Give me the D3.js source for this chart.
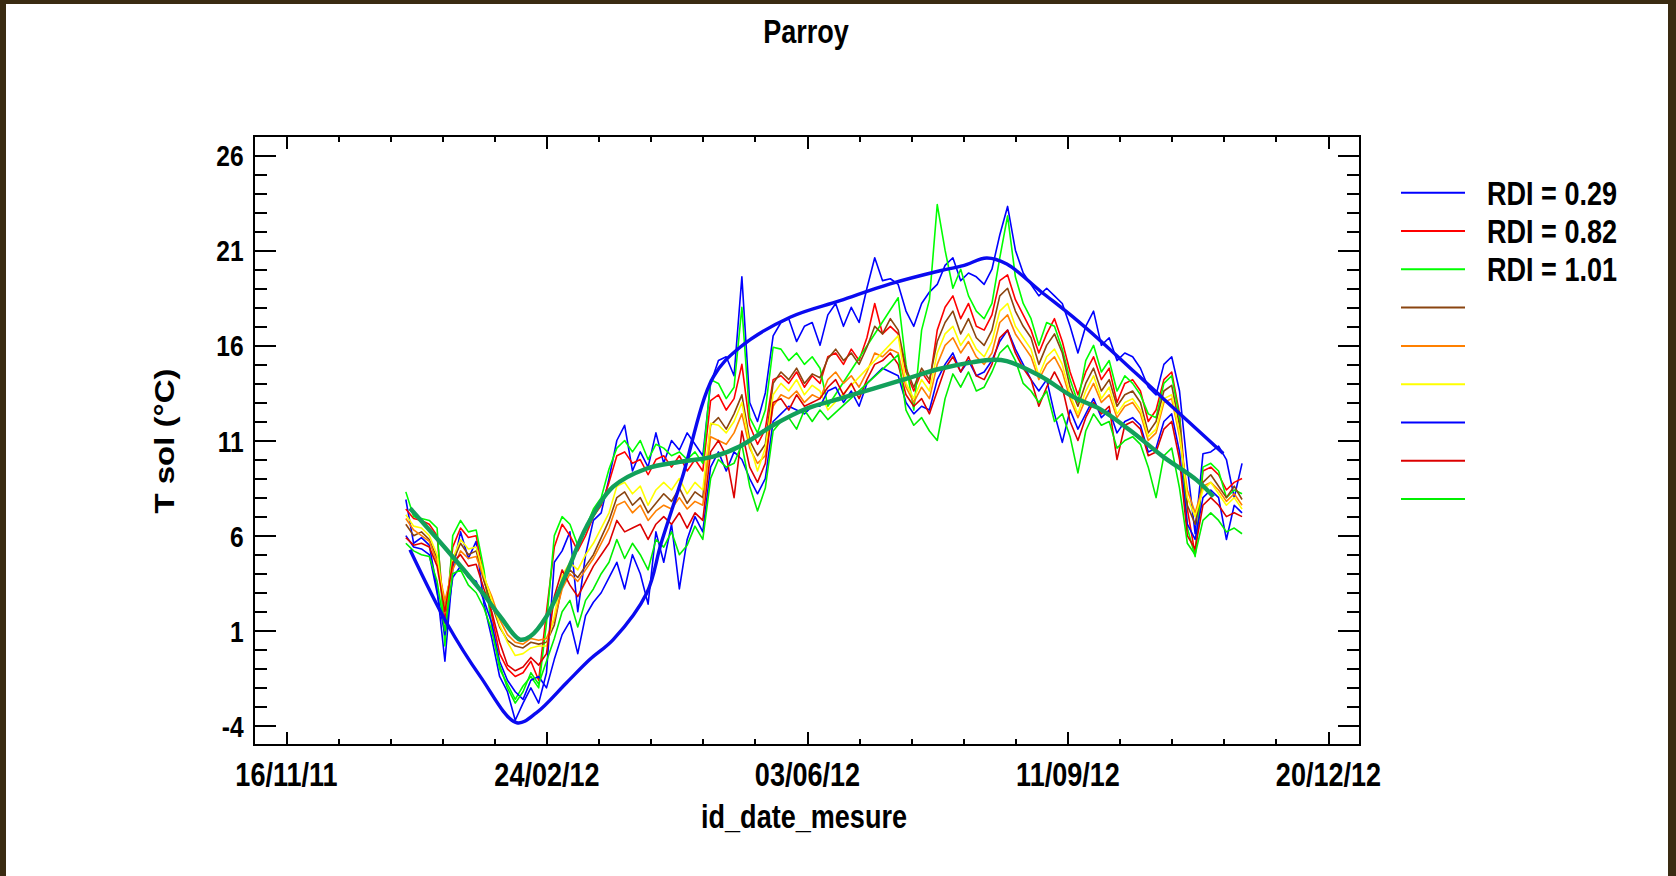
<!DOCTYPE html>
<html>
<head>
<meta charset="utf-8">
<script src="https://cdn.jsdelivr.net/npm/d3@7"></script>
<style>
  html, body { margin: 0; padding: 0; background: #3a2b12; }
  svg { display: block; }
</style>
</head>
<body>
<svg id="chart" width="1676" height="876"></svg>
<script>
// soil temperature, Parroy site, one point every 3 days from 1 Jan 2012
const firstDay = '2012-01-01';
const stepDays = 3;

const rdi029 = [
  7.9, 5.6, 5.9, 5.5, 3.2, -0.6, 4.2, 6.2, 4.8, 5.7,
  2.4, 0.6, -1.4, -2.2, -3.7, -2.8, -2.0, -2.8, -1.2, 4.6,
  5.2, 6.2, 2.0, 5.0, 6.8, 7.2, 9.0, 11.0, 11.8, 9.4,
  10.4, 9.6, 11.4, 9.8, 11.0, 10.5, 11.4, 10.8, 10.2, 14.0,
  15.2, 15.4, 14.4, 19.6, 13.0, 12.0, 13.5, 16.5, 17.2, 17.4,
  16.2, 17.0, 17.2, 16.0, 17.6, 18.2, 17.0, 18.0, 17.2, 19.0,
  20.6, 19.4, 19.5, 19.2, 17.8, 17.0, 18.2, 18.8, 19.2, 20.2,
  20.6, 19.4, 19.8, 19.6, 19.2, 20.0, 21.8, 23.3, 21.0, 19.8,
  19.2, 18.6, 19.0, 18.6, 18.2, 17.0, 15.6, 17.0, 17.8, 16.0,
  16.4, 15.2, 15.6, 15.4, 14.8, 13.8, 13.4, 15.0, 15.4, 13.6,
  9.6, 6.1, 10.3, 10.4, 10.7, 10.0, 8.0, 9.8
];
const rdi082 = [
  7.4, 6.9, 6.8, 6.6, 6.0, 1.4, 5.4, 6.4, 5.9, 6.0,
  3.8, 1.8, -0.2, -1.0, -1.4, -1.2, -0.6, -1.6, 2.0, 5.4,
  6.6, 6.0, 5.2, 6.0, 7.0, 7.6, 8.8, 10.2, 10.4, 9.8,
  10.0, 9.2, 10.0, 10.2, 9.6, 10.2, 9.4, 10.0, 9.4, 13.1,
  13.4, 12.6, 13.2, 15.0, 11.8, 10.8, 11.6, 14.2, 14.4, 14.0,
  14.6, 13.8, 14.4, 14.0, 15.4, 15.6, 15.0, 15.8, 15.2, 16.4,
  18.2, 16.6, 17.0, 16.6, 14.6, 13.6, 14.6, 14.0, 16.8, 18.0,
  18.6, 17.4, 18.2, 17.0, 16.8, 17.6, 19.4, 19.7, 18.4, 17.6,
  16.8, 15.6, 16.6, 17.4, 16.2, 14.6, 13.4, 14.6, 15.4, 14.2,
  14.8, 13.0, 14.0, 14.2, 13.6, 12.0, 12.6, 14.2, 14.6, 12.4,
  7.4, 5.0, 9.4, 9.6, 9.2, 8.4, 8.8, 9.0
];
const rdi101 = [
  8.3, 7.0, 6.9, 6.8, 6.4, 0.2, 6.0, 6.8, 6.2, 6.3,
  4.2, 1.2, -1.0, -1.8, -2.6, -1.9, -1.4, -2.0, 1.4, 6.0,
  7.0, 6.6, 5.5, 6.4, 7.4, 8.0, 9.5, 10.6, 11.0, 10.4,
  11.0, 10.0, 10.8, 10.6, 10.2, 10.4, 10.0, 10.4, 9.8, 14.2,
  14.0, 13.2, 13.8, 18.0, 12.2, 11.4, 12.6, 15.9, 15.8, 15.2,
  15.6, 15.0, 15.4, 14.8, 12.8, null, null, null, null, null,
  null, null, null, 18.5, 15.0, 12.6, 16.8, 18.4, 23.4, 21.0,
  19.0, 20.0, 18.6, 17.8, 17.4, 18.2, 20.6, 22.8, 19.6, 18.2,
  17.4, 16.0, 17.2, 17.0, 15.8, 14.2, 13.0, 15.2, 16.0, 14.6,
  15.2, 13.6, 14.4, 14.0, 13.4, 12.4, 12.2, 14.0, 14.4, 12.2,
  6.4, 4.9, 9.6, 9.8, 9.4, 8.0, 8.4, 8.2
];
const brownVals = [
  6.6, 6.0, 6.2, 5.8, 4.8, 2.2, 4.6, 5.6, 5.0, 5.2,
  3.6, 2.4, 1.2, 0.5, 0.2, 0.1, 0.4, 0.3, 0.4, 1.3,
  3.4, 4.2, 3.8, 4.4, 5.0, 5.9, 6.8, 8.0, 8.3, 7.6,
  8.0, 7.2, 7.7, 8.2, 7.8, 8.5, 7.7, 8.3, 8.0, 11.8,
  12.2, 11.6, 12.4, 13.4, 11.0, 10.2, 10.8, 14.0, 14.6, 14.2,
  14.8, 14.0, 14.5, 14.3, 15.3, 15.8, 15.2, 15.6, 15.0, 15.9,
  17.0, 16.6, 17.4, 16.8, 14.8, 13.8, 14.8, 14.2, 16.2, 17.2,
  17.8, 16.6, 17.4, 16.4, 16.0, 16.8, 18.6, 19.0, 17.8, 17.0,
  16.4, 15.0, 16.0, 16.6, 15.6, 13.8, 12.8, 14.0, 14.8, 13.6,
  14.2, 12.8, 13.4, 13.6, 13.0, 11.4, 12.0, 13.6, 13.9, 11.8,
  7.6, 6.6, 8.8, 9.2, 8.6, 8.0, 8.6, 7.9
];
const orangeVals = [
  6.9, 6.3, 6.0, 5.7, 4.6, 2.6, 4.2, 5.2, 4.8, 4.9,
  3.8, 2.8, 1.6, 0.8, 0.4, 0.3, 0.6, 0.5, 0.6, 1.6,
  3.2, 4.0, 3.6, 4.2, 4.8, 5.6, 6.4, 7.6, 7.8, 7.2,
  7.6, 6.8, 7.3, 7.6, 7.4, 8.0, 7.4, 7.8, 7.6, 11.2,
  11.0, 10.8, 11.4, 12.4, 10.6, 9.8, 10.2, 12.8, 13.4, 13.2,
  13.6, 13.0, 13.4, 13.2, 14.2, 14.6, 14.0, 14.4, 13.8, 14.6,
  15.6, 15.4, 15.8, 15.6, 13.8, 13.0, 13.8, 13.2, 15.0, 16.0,
  16.4, 15.6, 16.2, 15.4, 15.0, 15.6, 17.2, 17.6, 16.6, 16.0,
  15.4, 14.2, 15.0, 15.4, 14.6, 13.2, 12.2, 13.2, 14.0, 13.0,
  13.4, 12.2, 12.8, 13.0, 12.4, 11.0, 11.4, 13.0, 13.2, 11.2,
  8.4, 7.2, 8.6, 8.8, 8.4, 7.8, 8.2, 7.6
];
const yellowVals = [
  7.1, 6.5, 6.4, 6.0, 5.0, 2.0, 4.8, 5.8, 5.3, 5.4,
  3.9, 2.6, 1.3, 0.4, -0.3, -0.2, 0.1, 0.2, 0.2, 1.8,
  3.9, 4.6, 4.2, 5.0, 5.6, 6.4, 7.2, 8.6, 8.8, 8.2,
  8.6, 7.6, 8.4, 8.8, 8.4, 9.0, 8.2, 8.8, 8.4, 11.9,
  11.8, 11.4, 12.0, 13.0, 10.8, 9.4, 10.6, 13.4, 14.0, 13.6,
  14.2, 13.4, 13.9, 13.6, 12.6, null, null, null, null, null,
  null, null, null, 16.5, 14.0, 13.2, 14.2, 13.6, 15.6, 16.6,
  17.0, 16.0, 16.6, 15.8, 15.4, 16.2, 17.8, 18.2, 17.0, 16.4,
  15.8, 14.4, 15.4, 15.8, 15.0, 13.4, 12.4, 13.6, 14.4, 13.2,
  13.8, 12.4, 13.0, 13.2, 12.6, 11.2, 11.6, 13.2, 13.4, 11.4,
  8.0, 7.0, 8.4, 8.8, 8.2, 7.6, 8.0, 7.4
];
const blue2Vals = [
  6.0, 5.4, 5.3, 5.0, 3.0, 0.8, 3.8, 4.4, 3.8, 3.6,
  2.6, 1.4, -0.6, -1.6, -2.2, -2.6, -1.6, -1.4, -2.0, -0.5,
  0.8, 1.5, -0.2, 1.8, 2.5, 3.0, 3.8, 4.6, 3.2, 5.0,
  4.0, 2.4, 6.2, 4.6, 6.6, 3.2, 5.8, 7.0, 6.2, 9.6,
  10.4, 9.4, 10.4, 10.0, 9.0, 8.2, 9.0, 12.0, 12.4, 12.8,
  12.6, 12.4, 12.8, 12.8, 13.6, 13.8, 13.0, 13.6, 12.8, 14.0,
  14.4, 14.8, 14.6, 14.4, 13.0, 12.4, 12.8, 12.6, 14.2, 15.0,
  15.6, 14.6, 15.2, 14.4, 14.6, 15.2, 16.2, 16.8, 15.8, 15.0,
  14.2, 13.6, 14.2, 12.4, 10.9, 12.6, 11.6, 12.4, 13.2, 12.2,
  12.6, 11.4, 12.0, 12.2, 11.8, 10.4, 10.6, 12.0, 12.4, 10.4,
  6.6, 5.8, 8.0, 8.4, 8.0, 5.8, 7.6, 7.2
];
const red2Vals = [
  5.9, 5.5, 5.6, 5.4, 4.4, 2.0, 4.6, 5.0, 4.4, 4.5,
  3.2, 2.0, 0.4, -0.8, -1.1, -0.9, -0.4, -0.8, -0.2, 2.8,
  4.2, 3.4, 2.8, 3.6, 4.4, 5.0, 5.6, 6.8, 6.2, 6.4,
  6.6, 5.8, 6.6, 7.0, 6.6, 7.2, 6.4, 7.2, 6.8, 10.4,
  11.0, 10.2, 8.0, 11.5, 9.6, 8.8, 9.8, 13.0, 13.2, 12.6,
  13.4, 12.8, 13.0, 13.2, 13.8, 14.2, 13.4, 14.0, 13.2, 14.2,
  15.0, 15.2, 15.6, 15.0, 13.4, 12.8, 13.2, 12.4, 13.6, 14.8,
  15.4, 14.6, 15.4, 14.4, 14.2, 15.0, 16.4, 16.8, 15.6, 14.8,
  14.2, 12.8, 13.8, 14.6, 13.8, 12.0, 11.0, 12.2, 13.0, 12.4,
  12.8, 10.0, 11.8, 12.0, 11.6, 10.2, 10.4, 11.6, 12.0, 10.0,
  6.0, 5.3, 7.6, 8.0, 7.6, 7.0, 7.2, 7.0
];
const green2Vals = [
  5.6, 5.2, 5.0, 4.9, 3.6, 1.0, 4.0, 4.2, 3.4, 3.0,
  2.2, 1.0, -0.8, -2.0, -2.8, -2.2, -1.2, -1.8, -0.6, 0.6,
  2.0, 2.6, 1.2, 2.6, 3.2, 4.0, 4.6, 5.8, 4.8, 5.6,
  5.0, 4.2, 5.8, 5.4, 6.2, 5.0, 5.5, 6.5, 5.8, 9.0,
  10.0, 9.6, 9.8, 10.8, 8.6, 7.3, 8.5, 11.5, 12.0, 12.2,
  11.6, 12.6, 12.0, 12.6, 12.1, null, null, null, null, null,
  null, null, null, 15.5, 12.6, 11.8, 12.2, 11.5, 11.0, 13.2,
  14.5, 13.8, 14.6, 13.6, 13.8, 14.6, 15.6, 16.0, 15.2, 14.0,
  13.6, 13.0, 13.6, 12.0, 12.4, 11.2, 9.3, 11.5, 12.4, 11.8,
  12.0, 10.6, 11.0, 11.2, 10.8, 9.6, 8.0, 10.2, 10.6, 8.5,
  5.6, 5.0, 6.8, 7.2, 6.8, 6.2, 6.4, 6.1
];

// smoothed trends, read at irregular days after 1 Jan 2012
const blueTrendDay = [1.6, 15.7, 28.5, 42.6, 50.2, 61.7, 70.7, 79.6, 92.5, 98, 106, 118, 128.3,
  147.5, 166.7, 185.9, 205.1, 214, 223, 230.7, 243.4, 256.2, 266.5, 290.8, 313.8];
const blueTrendVal = [5.26, 1.41, -1.38, -3.83, -3.3, -1.73, -0.5, 0.54, 2.99, 5.6, 9.0, 14.33, 15.9,
  17.48, 18.35, 19.23, 19.92, 20.19, 20.59, 20.27, 18.87, 17.48, 16.26, 13.2, 10.32];
const greenTrendDay = [1.6, 15.7, 28.5, 36.2, 43.8, 47.7, 54, 61.7, 69.4, 79.6, 92.5, 105.2, 118, 128.3,
  141, 153.9, 166.7, 179.5, 192.3, 205.1, 217.8, 225.5, 230.7, 243.4, 256.2, 266.5, 278, 290.8, 303.6, 310];
const greenTrendVal = [7.44, 5.26, 3.16, 1.76, 0.54, 0.7, 1.76, 4.03, 6.48, 8.57, 9.53, 9.88, 10.15, 10.7,
  11.8, 12.68, 13.2, 13.73, 14.25, 14.77, 15.12, 15.24, 15.17, 14.4, 13.29, 12.65, 11.54, 10.14, 8.92, 8.05];

const xTickLabels = ['16/11/11', '24/02/12', '03/06/12', '11/09/12', '20/12/12'];
const yTickValues = [-4, 1, 6, 11, 16, 21, 26];
const legendLabels = ['RDI = 0.29', 'RDI = 0.82', 'RDI = 1.01', '', '', '', '', '', ''];

const seriesValues = [rdi029, rdi082, rdi101, brownVals, orangeVals, yellowVals, blue2Vals, red2Vals, green2Vals];
const seriesColors = ['#0000ff', '#ff0000', '#00ff00', '#8a4510', '#ff8000', '#ffff00', '#0000ff', '#dc0000', '#00f000'];

const FONT = '"Liberation Sans", Arial, sans-serif';
const SQUEEZE = 'scale(0.82,1)';   // the original text is horizontally condensed
const plot = {left: 254, right: 1360, top: 136, bottom: 745};

const svg = d3.select('#chart');
svg.append('rect').attr('width', 1676).attr('height', 876).attr('fill', '#3a2b12');
svg.append('rect').attr('x', 6).attr('y', 4).attr('width', 1662).attr('height', 872).attr('fill', '#fff');

const parseTick = d3.utcParse('%d/%m/%y');
const majorDates = xTickLabels.map(parseTick);
const x = d3.scaleUtc().domain([majorDates[0], majorDates[majorDates.length - 1]]).range([286, 1328]);
const y = d3.scaleLinear().domain([-5, 27]).range([plot.bottom, plot.top]);

const minorDates = d3.range(1, 20).filter((k) => k % 5 !== 0)
    .map((k) => d3.utcDay.offset(majorDates[0], 20 * k));
const yMinor = d3.range(-3, 26).filter((v) => !yTickValues.includes(v));

// series lines
const day0 = d3.utcParse('%Y-%m-%d')(firstDay);
const line = d3.line().x((d) => x(d.date)).y((d) => y(d.v));
const lines = svg.append('g').attr('fill', 'none').attr('stroke-linejoin', 'round');
seriesValues.forEach((vals, i) => {
  // gaps in a series are bridged with a straight segment, as in the original
  const pts = vals.map((v, j) => ({date: d3.utcDay.offset(day0, j * stepDays), v: v}))
      .filter((d) => d.v !== null);
  lines.append('path').datum(pts)
      .attr('d', line)
      .attr('stroke', seriesColors[i])
      .attr('stroke-width', 1.6);
});

const toDate = (t) => new Date(day0.getTime() + t * 864e5);
const trend = d3.line().curve(d3.curveCatmullRom.alpha(0.5))
    .x((d) => x(toDate(d[0]))).y((d) => y(d[1]));
lines.append('path').datum(d3.zip(blueTrendDay, blueTrendVal))
    .attr('d', trend).attr('stroke', '#0a0af0').attr('stroke-width', 3.4);
lines.append('path').datum(d3.zip(greenTrendDay, greenTrendVal))
    .attr('d', trend).attr('stroke', '#12a05a').attr('stroke-width', 4.4);

// axes, ticks pointing inward on all four sides
function styleAxis(g) {
  g.select('.domain').remove();
  g.attr('font-family', FONT).attr('font-weight', 'bold').attr('color', '#000');
  g.selectAll('line').attr('stroke-width', 2).attr('shape-rendering', 'crispEdges');
}
svg.append('g').attr('transform', `translate(0,${plot.bottom})`)
    .call(d3.axisBottom(x).tickValues(majorDates).tickSize(-13).tickPadding(18)
        .tickFormat(d3.utcFormat('%d/%m/%y')))
    .call(styleAxis)
    .attr('font-size', 33)
    .call((g) => g.selectAll('text').attr('transform', SQUEEZE));
svg.append('g').attr('transform', `translate(0,${plot.bottom})`)
    .call(d3.axisBottom(x).tickValues(minorDates).tickSize(-6).tickFormat(''))
    .call(styleAxis);
svg.append('g').attr('transform', `translate(0,${plot.top})`)
    .call(d3.axisTop(x).tickValues(majorDates).tickSize(-13).tickFormat(''))
    .call(styleAxis);
svg.append('g').attr('transform', `translate(0,${plot.top})`)
    .call(d3.axisTop(x).tickValues(minorDates).tickSize(-6).tickFormat(''))
    .call(styleAxis);

svg.append('g').attr('transform', `translate(${plot.left},0)`)
    .call(d3.axisLeft(y).tickValues(yTickValues).tickSize(-22).tickPadding(12.6).tickFormat(String))
    .call(styleAxis)
    .attr('font-size', 30)
    .call((g) => g.selectAll('text').attr('dy', '0.35em').attr('transform', SQUEEZE));
svg.append('g').attr('transform', `translate(${plot.left},0)`)
    .call(d3.axisLeft(y).tickValues(yMinor).tickSize(-13).tickFormat(''))
    .call(styleAxis);
svg.append('g').attr('transform', `translate(${plot.right},0)`)
    .call(d3.axisRight(y).tickValues(yTickValues).tickSize(-22).tickFormat(''))
    .call(styleAxis);
svg.append('g').attr('transform', `translate(${plot.right},0)`)
    .call(d3.axisRight(y).tickValues(yMinor).tickSize(-13).tickFormat(''))
    .call(styleAxis);

svg.append('rect')
    .attr('x', plot.left).attr('y', plot.top)
    .attr('width', plot.right - plot.left).attr('height', plot.bottom - plot.top)
    .attr('fill', 'none').attr('stroke', '#000').attr('stroke-width', 2);

// titles
function label(txt, px, py, size, rotate) {
  svg.append('text')
      .attr('transform', `translate(${px},${py}) ${SQUEEZE}` + (rotate ? ' rotate(-90)' : ''))
      .attr('text-anchor', 'middle')
      .attr('font-family', FONT).attr('font-weight', 'bold').attr('font-size', size)
      .text(txt);
}
label('Parroy', 806, 43, 33);
label('id_date_mesure', 804, 828, 33);
label('T sol (°C)', 174, 441, 33, true);

// legend
const legend = svg.append('g');
seriesColors.forEach((c, i) => {
  const ly = 192.7 + i * 38.3;
  legend.append('line').attr('x1', 1401).attr('x2', 1465).attr('y1', ly).attr('y2', ly)
      .attr('stroke', c).attr('stroke-width', 2);
  if (legendLabels[i]) {
    legend.append('text')
        .attr('transform', `translate(1487,${ly + 11.8}) ${SQUEEZE}`)
        .attr('font-family', FONT).attr('font-weight', 'bold').attr('font-size', 33)
        .text(legendLabels[i]);
  }
});
</script>
</body>
</html>
